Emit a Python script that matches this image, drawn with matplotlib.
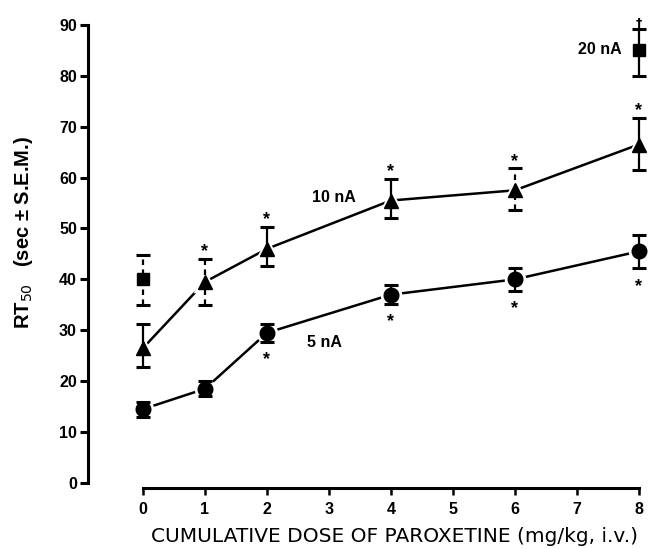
import matplotlib
matplotlib.use('Agg')
from matplotlib import pyplot as plt

# cumulative dose of paroxetine (mg/kg, i.v.)
dose = [0, 1, 2, 4, 6, 8]

# 5 nA (circles)
rt_5 = [14.5, 18.5, 29.5, 37.0, 40.0, 45.5]
up_5 = [1.5, 1.5, 1.8, 1.8, 2.2, 3.3]
dn_5 = [1.5, 1.5, 1.8, 1.8, 2.2, 3.3]
star_5 = [2, 4, 6, 8]

# 10 nA (triangles)
rt_10 = [26.5, 39.5, 46.0, 55.5, 57.5, 66.5]
up_10 = [4.8, 4.5, 4.3, 4.3, 4.3, 5.3]
dn_10 = [3.8, 4.5, 3.3, 3.5, 3.8, 5.0]
star_10 = [1, 2, 4, 6, 8]
dashed_10 = [1, 4]  # indices drawn with broken error bars

# 20 nA (squares)
dose_20 = [0, 8]
rt_20 = [40.0, 85.0]
up_20 = [4.8, 4.2]
dn_20 = [5.0, 5.0]
dashed_20 = [0]

plt.rcParams['font.family'] = ['Liberation Sans', 'DejaVu Sans']

fig = plt.figure(figsize=(6.54, 5.49), dpi=100)
ax = fig.add_axes([0.1346, 0.1111, 0.8563, 0.862])


def bars(x, y, up, dn, dashed=()):
    eb = ax.errorbar(x, y, yerr=[dn, up], fmt='none', ecolor='black',
                     elinewidth=1.6, capsize=5, capthick=2.2, zorder=4)
    styles = [(0, (2.5, 2)) if i in dashed else '-' for i in range(len(x))]
    eb[2][0].set_linestyles(styles)


def draw(x, y, up, dn, marker, ms, dashed=()):
    ax.plot(x, y, color='black', lw=1.8, zorder=1)
    ax.plot(x, y, ls='none', marker=marker, ms=ms, color='black',
            mec='white', mew=2.5, zorder=2)
    ax.plot(x, y, ls='none', marker=marker, ms=ms - 2.5, color='black', zorder=3)
    bars(x, y, up, dn, dashed)


draw(dose, rt_5, up_5, dn_5, 'o', 13)
draw(dose, rt_10, up_10, dn_10, '^', 13, dashed_10)
bars(dose_20, rt_20, up_20, dn_20, dashed_20)
ax.plot(dose_20, rt_20, ls='none', marker='s', ms=9, color='black', zorder=3)

# significance marks
for i, x in enumerate(dose):
    if x in star_5:
        ax.annotate('*', (x, rt_5[i] - dn_5[i]), xytext=(0, -13),
                    textcoords='offset points', ha='center', va='center',
                    fontsize=13, fontweight='bold')
    if x in star_10:
        ax.annotate('*', (x, rt_10[i] + up_10[i]), xytext=(0, 5),
                    textcoords='offset points', ha='center', va='center',
                    fontsize=13, fontweight='bold')
ax.annotate('†', (dose_20[1], rt_20[1] + up_20[1]), xytext=(0, 4),
            textcoords='offset points', ha='center', va='center',
            fontsize=9, fontweight='bold', family=['DejaVu Sans'])

ax.text(3.08, 56.0, '10 nA', fontsize=11.5, fontweight='bold', ha='center', va='center')
ax.text(2.92, 27.5, '5 nA', fontsize=11.5, fontweight='bold', ha='center', va='center')
ax.text(7.37, 85.2, '20 nA', fontsize=11.5, fontweight='bold', ha='center', va='center')

ax.set_xlim(-0.887, 8.15)
ax.set_ylim(-1, 92)
ax.set_xticks(range(0, 9))
ax.set_yticks(range(0, 91, 10))
for s in ['top', 'right']:
    ax.spines[s].set_visible(False)
ax.spines['left'].set_bounds(0, 90)
ax.spines['bottom'].set_bounds(0, 8)
ax.spines['left'].set_linewidth(2.2)
ax.spines['bottom'].set_linewidth(2.2)
ax.tick_params(axis='y', direction='out', length=6, width=2.2, labelsize=11.5, pad=2)
ax.tick_params(axis='x', direction='out', length=5, width=1.8, labelsize=11.5, pad=5)
for lab in ax.get_xticklabels() + ax.get_yticklabels():
    lab.set_fontweight('bold')

ax.set_xlabel('CUMULATIVE DOSE OF PAROXETINE (mg/kg, i.v.)', fontsize=14.5,
              family=['DejaVu Sans'])
ax.xaxis.set_label_coords(0.548, -0.083)
ax.set_ylabel('RT$_{50}$   (sec \u00b1 S.E.M.)', fontsize=14.5, fontweight='bold')
ax.yaxis.set_label_coords(-0.095, 0.54)

fig.savefig('out.png', dpi=100)
